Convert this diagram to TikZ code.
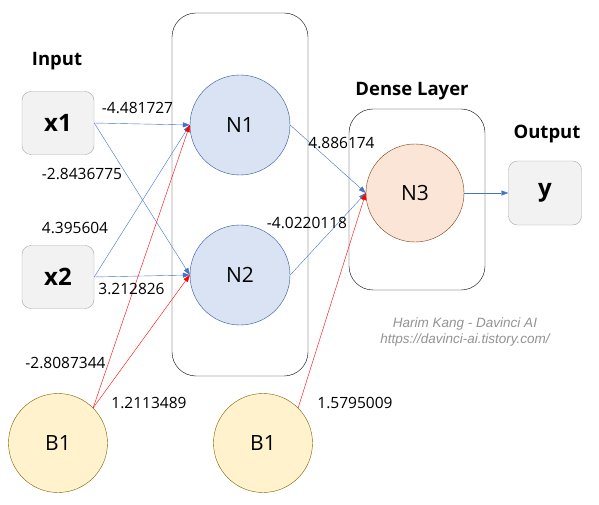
\documentclass[tikz,border=0pt]{standalone}
\usepackage{fontspec}
\setmainfont{Open Sans}
\newfontfamily\markfont{Liberation Sans}
\usetikzlibrary{arrows.meta}

\definecolor{inFill}{HTML}{F2F2F2}
\definecolor{inLine}{HTML}{A6A6A6}
\definecolor{hidFill}{HTML}{DAE3F3}
\definecolor{hidLine}{HTML}{2F5597}
\definecolor{outFill}{HTML}{FBE5D6}
\definecolor{outLine}{HTML}{843C0C}
\definecolor{biasFill}{HTML}{FFF2CC}
\definecolor{biasLine}{HTML}{7F6000}
\definecolor{wireBlue}{HTML}{4472C4}

\tikzset{
  inbox/.style={draw=inLine, fill=inFill, rounded corners=9pt, minimum width=72pt,
    minimum height=63pt, font=\fontsize{24}{24}\selectfont\bfseries},
  neuron/.style={circle, draw=hidLine, fill=hidFill, minimum size=100pt, inner sep=0pt,
    font=\fontsize{21}{21}\selectfont},
  bias/.style={circle, draw=biasLine, fill=biasFill, minimum size=99pt, inner sep=0pt,
    font=\fontsize{21}{21}\selectfont},
  layerbox/.style={draw, rounded corners=24pt},
  heading/.style={font=\fontsize{18.5}{18.5}\selectfont\bfseries},
  weight/.style={font=\fontsize{15.5}{15.5}\selectfont, inner sep=0pt},
  wire/.style={wireBlue, -{Triangle[length=7pt,width=5pt]}},
  bwire/.style={red, -{Triangle[length=7pt,width=5pt]}},
}

\begin{document}
\begin{tikzpicture}[x=1pt, y=-1pt]
  \useasboundingbox (0,0) rectangle (599,505);

  % --- 1. layer frames ---
  \draw[layerbox] (172,13) rectangle (308,376);
  \draw[layerbox] (349,109) rectangle (485,290);

  % --- 2. headings ---
  \node[heading] (hIn) at (57,61) {Input};
  \node[heading] (hDense) at (412,91) {Dense Layer};
  \node[heading] (hOut) at (547,134) {Output};

  % --- 3. units ---
  \node[inbox] (x1) at (58,123) {x1};
  \node[inbox] (x2) at (58,277) {x2};
  \node[neuron] (N1) at (240,125) {N1};
  \node[neuron] (N2) at (240,275) {N2};
  \node[neuron, draw=outLine, fill=outFill, minimum size=98pt] (N3) at (415,193) {N3};
  \node[inbox, minimum height=64pt, minimum width=73pt] (y) at (545,193) {y};
  \node[bias] (B1a) at (58,443) {B1};
  \node[bias] (B1b) at (263,443) {B1};

  % --- 4. connections ---
  \draw[wire] (x1.east) -- (N1.west);
  \draw[wire] (x1.east) -- (N2.west);
  \draw[wire] (x2.east) -- (N1.west);
  \draw[wire] (x2.east) -- (N2.west);
  \draw[bwire] (B1a.45) -- (N1.west);
  \draw[bwire] (B1a.45) -- (N2.west);
  \draw[wire] (N1.east) -- (N3.west);
  \draw[wire] (N2.east) -- (N3.west);
  \draw[bwire] (B1b.45) -- (N3.west);
  \draw[wire] (N3.east) -- (y.west);

  % --- 5. weights ---
  \node[weight] (w11) at (137.5,108) {-4.481727};
  \node[weight] (w12) at (82,174) {-2.8436775};
  \node[weight] (w21) at (75,228) {4.395604};
  \node[weight] (w22) at (131.5,289) {3.212826};
  \node[weight] (b1) at (65.5,363) {-2.8087344};
  \node[weight] (b2) at (149,403) {1.2113489};
  \node[weight] (w13) at (341.5,143) {4.886174};
  \node[weight] (w23) at (307,223) {-4.0220118};
  \node[weight] (b3) at (355,403) {1.5795009};

  % watermark
  \node[font=\markfont\itshape\fontsize{13.5}{16}\selectfont, text=gray!85, align=center]
    (mark) at (465,332) {Harim Kang - Davinci AI\\https://davinci-ai.tistory.com/};
\end{tikzpicture}
\end{document}
